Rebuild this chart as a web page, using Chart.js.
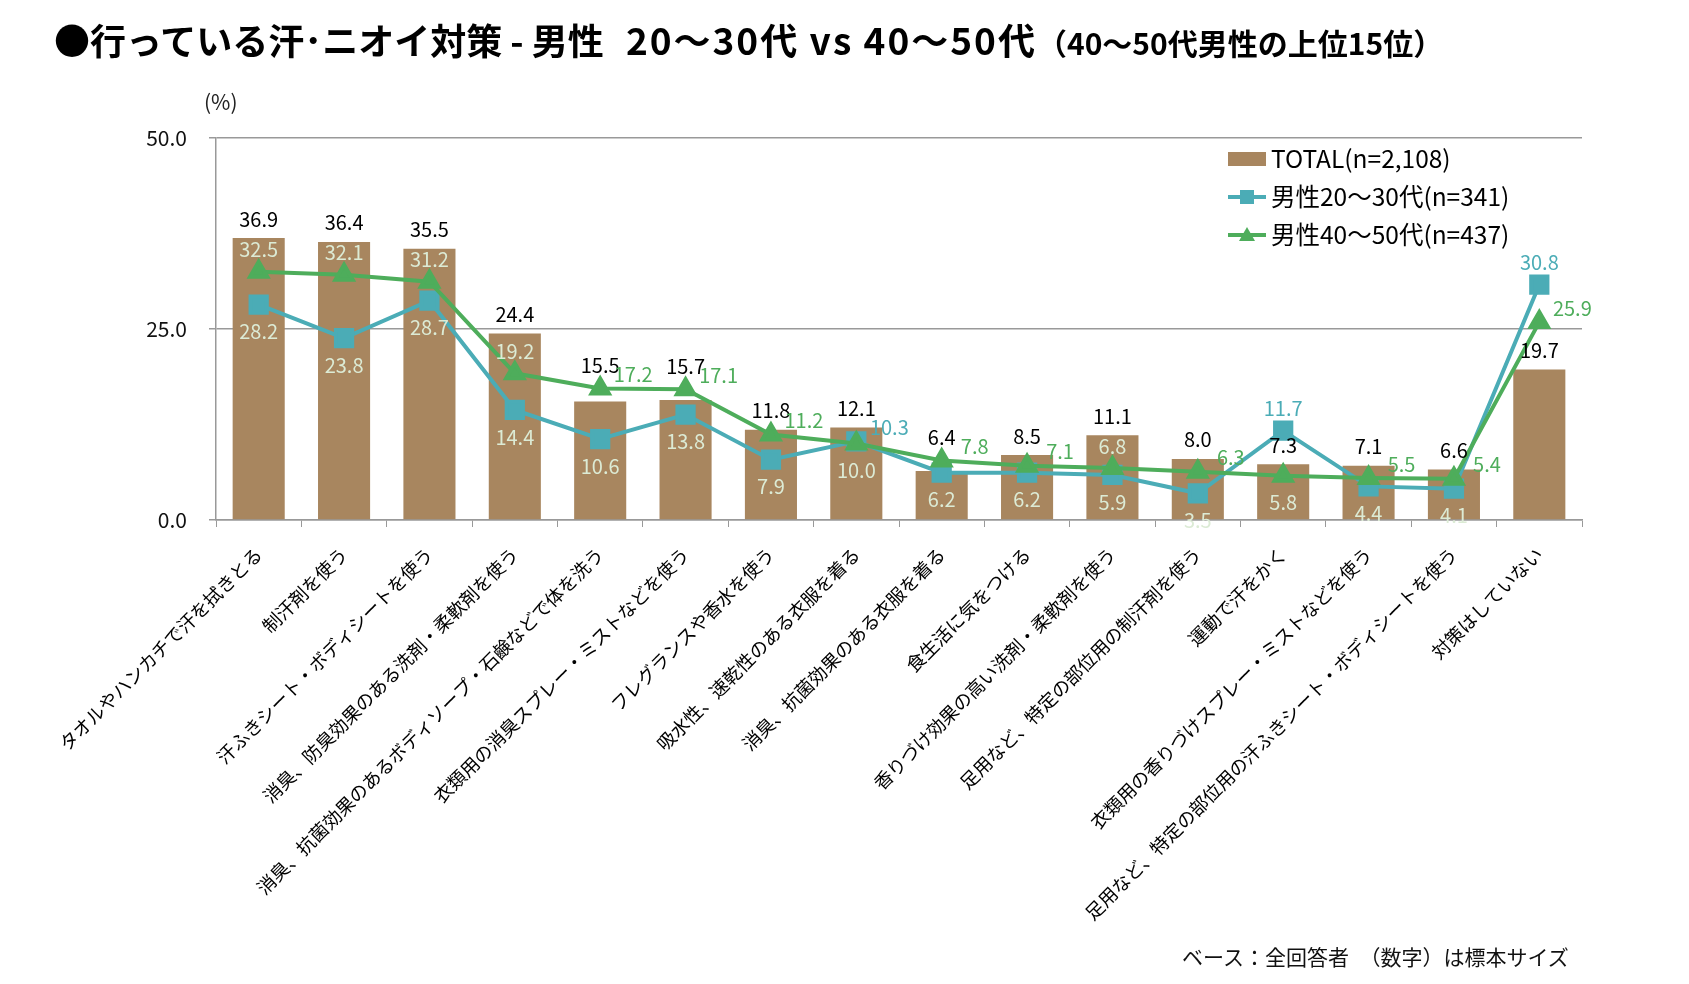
<!DOCTYPE html>
<html>
<head>
<meta charset="utf-8">
<script src="https://cdn.jsdelivr.net/npm/chart.js@4/dist/chart.umd.min.js"></script>
<style>
  body { margin: 0; background: #fff; font-family: "Noto Sans CJK JP", sans-serif; }
  #wrap { position: relative; width: 1689px; height: 984px; }
  #title { position: absolute; left: 54px; top: 12px; font-size: 36px; font-weight: bold; color: #000; white-space: nowrap; }
  #title .age { font-size: 37px; letter-spacing: 2px; margin-left: 22px; }
  #title small { font-size: 30px; }
  #unit { position: absolute; left: 204px; top: 86px; font-size: 21px; color: #222; }
  #note { position: absolute; left: 1182px; top: 941px; font-size: 21px; color: #111; white-space: nowrap; }
  canvas { position: absolute; left: 0; top: 0; }
</style>
</head>
<body>
<div id="wrap">
  <canvas id="chart" width="1689" height="984"></canvas>
  <div id="title">●行っている汗･ニオイ対策 - 男性<span class="age">20～30代 vs 40～50代</span><small>（40～50代男性の上位15位）</small></div>
  <div id="unit">(%)</div>
  <div id="note">ベース：全回答者　（数字）は標本サイズ</div>
</div>
<script>
// 項目
const categories = [
  'タオルやハンカチで汗を拭きとる',
  '制汗剤を使う',
  '汗ふきシート・ボディシートを使う',
  '消臭、防臭効果のある洗剤・柔軟剤を使う',
  '消臭、抗菌効果のあるボディソープ・石鹸などで体を洗う',
  '衣類用の消臭スプレー・ミストなどを使う',
  'フレグランスや香水を使う',
  '吸水性、速乾性のある衣服を着る',
  '消臭、抗菌効果のある衣服を着る',
  '食生活に気をつける',
  '香りづけ効果の高い洗剤・柔軟剤を使う',
  '足用など、特定の部位用の制汗剤を使う',
  '運動で汗をかく',
  '衣類用の香りづけスプレー・ミストなどを使う',
  '足用など、特定の部位用の汗ふきシート・ボディシートを使う',
  '対策はしていない'
];

// 値 (%)
const total = [36.9, 36.4, 35.5, 24.4, 15.5, 15.7, 11.8, 12.1, 6.4, 8.5, 11.1, 8.0, 7.3, 7.1, 6.6, 19.7];
const male2030 = [28.2, 23.8, 28.7, 14.4, 10.6, 13.8, 7.9, 10.3, 6.2, 6.2, 5.9, 3.5, 11.7, 4.4, 4.1, 30.8];
const male4050 = [32.5, 32.1, 31.2, 19.2, 17.2, 17.1, 11.2, 10.0, 7.8, 7.1, 6.8, 6.3, 5.8, 5.5, 5.4, 25.9];

const yTicks = [0, 25, 50];

// ラベル位置 a=上, b=下, r=右上
const pos2030 = ['b','b','b','b','b','b','b','r','b','b','b','b','a','b','b','a'];
const pos4050 = ['a','a','a','a','r','r','r','b','r','r','a','r','b','r','r','r'];

const BAR = '#A8865F';
const TEAL = '#4BACB6';
const GREEN = '#4EAD5B';
const LIGHT = '#DCEBD5';
const FONT = '"Noto Sans CJK JP", sans-serif';

// データラベル
const labelPlugin = {
  id: 'labels',
  afterDatasetsDraw(chart) {
    const ctx = chart.ctx;
    ctx.save();
    ctx.font = '20px ' + FONT;
    ctx.textAlign = 'center';
    ctx.textBaseline = 'middle';
    const bars = chart.getDatasetMeta(0).data;
    const pts1 = chart.getDatasetMeta(1).data;
    const pts2 = chart.getDatasetMeta(2).data;
    bars.forEach((b, i) => {
      // 棒のすぐ上にマーカーがあればその上に出す
      let top = b.y;
      [pts1[i], pts2[i]].forEach(p => {
        if (p.y < top && p.y > b.y - 24) top = p.y - 4;
      });
      ctx.fillStyle = '#000';
      ctx.fillText(total[i].toFixed(1), b.x, top - 19);
    });
    const drawLine = (pts, values, pos, color) => {
      pts.forEach((p, i) => {
        let x = p.x, y = p.y, c = color;
        if (pos[i] === 'a') y -= 22;
        else if (pos[i] === 'b') y += 27;
        else { x += 33; y -= 14; }
        if (pos[i] !== 'r' && y > bars[i].y + 4) c = LIGHT;
        ctx.fillStyle = c;
        ctx.fillText(values[i].toFixed(1), x, y);
      });
    };
    drawLine(pts1, male2030, pos2030, TEAL);
    drawLine(pts2, male4050, pos4050, GREEN);
    ctx.restore();
  }
};

// 凡例
const legendPlugin = {
  id: 'myLegend',
  afterDraw(chart) {
    const ctx = chart.ctx;
    const x0 = 1228, x1 = 1266;
    const rows = [
      { y: 159, text: 'TOTAL(n=2,108)' },
      { y: 197, text: '男性20～30代(n=341)' },
      { y: 235, text: '男性40～50代(n=437)' }
    ];
    ctx.save();
    ctx.fillStyle = BAR;
    ctx.fillRect(x0, rows[0].y - 7, x1 - x0, 14);
    ctx.lineWidth = 4;
    ctx.strokeStyle = TEAL;
    ctx.beginPath(); ctx.moveTo(x0, rows[1].y); ctx.lineTo(x1, rows[1].y); ctx.stroke();
    ctx.fillStyle = TEAL;
    ctx.fillRect(x0 + 12, rows[1].y - 7, 14, 14);
    ctx.strokeStyle = GREEN;
    ctx.beginPath(); ctx.moveTo(x0, rows[2].y); ctx.lineTo(x1, rows[2].y); ctx.stroke();
    ctx.fillStyle = GREEN;
    ctx.beginPath();
    ctx.moveTo(x0 + 19, rows[2].y - 8);
    ctx.lineTo(x0 + 27, rows[2].y + 6);
    ctx.lineTo(x0 + 11, rows[2].y + 6);
    ctx.closePath(); ctx.fill();
    ctx.fillStyle = '#000';
    ctx.font = '24.5px ' + FONT;
    ctx.textBaseline = 'middle';
    rows.forEach(r => ctx.fillText(r.text, x1 + 5, r.y));
    ctx.restore();
  }
};

new Chart(document.getElementById('chart'), {
  type: 'bar',
  data: {
    labels: categories,
    datasets: [
      {
        label: 'TOTAL(n=2,108)',
        data: total,
        backgroundColor: BAR,
        barPercentage: 0.61,
        categoryPercentage: 1,
        order: 3
      },
      {
        type: 'line',
        label: '男性20～30代(n=341)',
        data: male2030,
        borderColor: TEAL,
        backgroundColor: TEAL,
        borderWidth: 4,
        pointStyle: 'rect',
        pointRadius: 11.5,
        pointHoverRadius: 11.5,
        tension: 0,
        order: 2
      },
      {
        type: 'line',
        label: '男性40～50代(n=437)',
        data: male4050,
        borderColor: GREEN,
        backgroundColor: GREEN,
        borderWidth: 4,
        pointStyle: 'triangle',
        pointRadius: 10,
        pointHoverRadius: 10,
        tension: 0,
        order: 1
      }
    ]
  },
  options: {
    responsive: false,
    animation: false,
    devicePixelRatio: 1,
    layout: { padding: { left: 0, top: 138, right: 107, bottom: 0 } },
    plugins: {
      legend: { display: false },
      tooltip: { enabled: false }
    },
    scales: {
      x: {
        grid: { drawOnChartArea: false, drawTicks: true, tickLength: 7, color: '#999', offset: true },
        border: { color: '#999', width: 1.5 },
        ticks: {
          color: '#000',
          font: { family: FONT, size: 18.5 },
          maxRotation: 45,
          minRotation: 45,
          autoSkip: false,
          padding: 16
        },
        afterFit(s) { s.height = 464; }
      },
      y: {
        min: 0,
        max: 50,
        afterBuildTicks(s) { s.ticks = yTicks.map(v => ({ value: v })); },
        grid: { color: '#999', lineWidth: 1.5, tickLength: 7 },
        border: { color: '#999', width: 1.5 },
        ticks: {
          color: '#111',
          font: { family: FONT, size: 21 },
          padding: 22,
          callback: v => v.toFixed(1)
        },
        afterFit(s) { s.width = 216; }
      }
    }
  },
  plugins: [labelPlugin, legendPlugin]
});
</script>
</body>
</html>
